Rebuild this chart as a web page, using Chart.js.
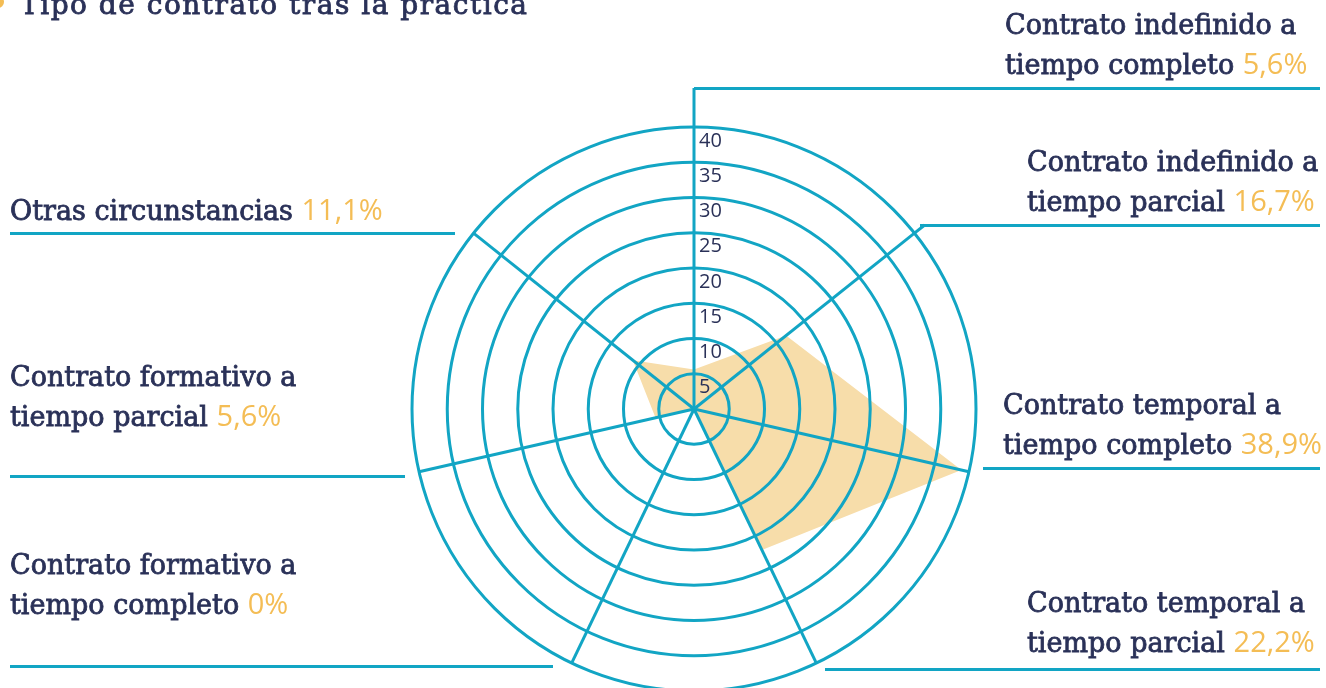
<!DOCTYPE html>
<html>
<head>
<meta charset="utf-8">
<script src="https://cdn.jsdelivr.net/npm/chart.js@4"></script>
<style>
  html, body { margin: 0; padding: 0; background: #ffffff; overflow: hidden; width: 1326px; height: 688px; }
  #wrap { position: relative; width: 1326px; height: 688px; overflow: hidden; }
  canvas#c { position: absolute; left: 0; top: 0; }
  .lbl { position: absolute; font-family: "DejaVu Serif", serif; font-size: 27px; line-height: 38px; color: #2A3158; white-space: nowrap; letter-spacing: 0px; -webkit-text-stroke: 0.8px #2A3158; }
  .pct { font-family: "Open Sans", sans-serif; font-size: 29px; color: #F4BD55; letter-spacing: 0; -webkit-text-stroke: 0px transparent; }
  #title { position: absolute; left: 20px; top: -14px; font-family: "DejaVu Serif", serif; font-size: 28px; line-height: 38px; color: #2A3158; white-space: nowrap; letter-spacing: 1.5px; -webkit-text-stroke: 0.8px #2A3158; }
  #bullet { position: absolute; left: -8px; top: -4px; width: 12px; height: 12px; border-radius: 50%; background: #F4BD55; }
  .hline { position: absolute; height: 3px; background: #12A5C4; }
</style>
</head>
<body>
<div id="wrap">
  <canvas id="c" width="1326" height="760"></canvas>
  <div id="bullet"></div>
  <div id="title"></div>
</div>
<script>
// ---- data ----
const categories = [
  'Contrato indefinido a tiempo completo',
  'Contrato indefinido a tiempo parcial',
  'Contrato temporal a tiempo completo',
  'Contrato temporal a tiempo parcial',
  'Contrato formativo a tiempo completo',
  'Contrato formativo a tiempo parcial',
  'Otras circunstancias'
];
const labelLine1 = ['Contrato indefinido a', 'Contrato indefinido a', 'Contrato temporal a', 'Contrato temporal a', 'Contrato formativo a', 'Contrato formativo a', 'Otras circunstancias'];
const labelLine2 = ['tiempo completo', 'tiempo parcial', 'tiempo completo', 'tiempo parcial', 'tiempo completo', 'tiempo parcial', ''];
const values = [5.6, 16.7, 38.9, 22.2, 0, 5.6, 11.1];
const valueLabels = ['5,6%', '16,7%', '38,9%', '22,2%', '0%', '5,6%', '11,1%'];
const tickValues = [5, 10, 15, 20, 25, 30, 35, 40];
const titleText = 'Tipo de contrato tras la práctica';

// ---- layout (positions only) ----
const TEAL = '#12A5C4';
const NAVY = '#2A3158';
const blockPos = [
  { left: 1005, top: 6 },
  { left: 1027, top: 143 },
  { left: 1003, top: 386 },
  { left: 1027, top: 584 },
  { left: 10, top: 546 },
  { left: 10, top: 358 },
  { left: 10, top: 190 }
];
const hlines = [
  { x1: 694, x2: 1320, y: 88 },
  { x1: 920, x2: 1320, y: 225 },
  { x1: 983, x2: 1320, y: 468 },
  { x1: 825, x2: 1320, y: 669 },
  { x1: 10, x2: 553, y: 666 },
  { x1: 10, x2: 405, y: 476 },
  { x1: 10, x2: 455, y: 233 }
];

const wrap = document.getElementById('wrap');
document.getElementById('title').textContent = titleText;
categories.forEach((c, i) => {
  const d = document.createElement('div');
  d.className = 'lbl';
  d.style.left = blockPos[i].left + 'px';
  d.style.top = blockPos[i].top + 'px';
  const pct = '<span class="pct">' + valueLabels[i] + '</span>';
  if (labelLine2[i]) {
    d.innerHTML = labelLine1[i] + '<br>' + labelLine2[i] + ' ' + pct;
  } else {
    d.innerHTML = labelLine1[i] + ' ' + pct;
  }
  wrap.appendChild(d);
});
hlines.forEach(h => {
  const l = document.createElement('div');
  l.className = 'hline';
  l.style.left = h.x1 + 'px';
  l.style.width = (h.x2 - h.x1) + 'px';
  l.style.top = (h.y - 1.5) + 'px';
  wrap.appendChild(l);
});

const decoPlugin = {
  id: 'deco',
  afterDraw(chart) {
    const s = chart.scales.r;
    const ctx = chart.ctx;
    ctx.save();
    ctx.strokeStyle = TEAL;
    ctx.lineWidth = 3;
    const outer = s.getDistanceFromCenterForValue(40);
    // top spoke up to its label line
    const p0 = s.getPointPosition(0, outer);
    ctx.beginPath();
    ctx.moveTo(p0.x, p0.y);
    ctx.lineTo(p0.x, hlines[0].y);
    ctx.stroke();
    // upper-right spoke extended to its label line
    const a1 = s.getPointPosition(1, outer);
    const ratio = (s.yCenter - hlines[1].y) / (s.yCenter - a1.y);
    const p1 = s.getPointPosition(1, outer * ratio);
    ctx.beginPath();
    ctx.moveTo(a1.x, a1.y);
    ctx.lineTo(p1.x, p1.y);
    ctx.stroke();
    // tick labels
    ctx.fillStyle = NAVY;
    ctx.font = '20px "Open Sans", sans-serif';
    ctx.textAlign = 'left';
    ctx.textBaseline = 'middle';
    tickValues.forEach(v => {
      const r = s.getDistanceFromCenterForValue(v);
      ctx.fillText(String(v), s.xCenter + 5, s.yCenter - r + 14);
    });
    ctx.restore();
  }
};

function build() {
  new Chart(document.getElementById('c'), {
    type: 'radar',
    data: {
      labels: categories,
      datasets: [{
        data: values,
        backgroundColor: '#F7DDAA',
        borderColor: 'rgba(0,0,0,0)',
        borderWidth: 0,
        pointRadius: 0,
        fill: true,
        tension: 0
      }]
    },
    options: {
      responsive: false,
      animation: false,
      devicePixelRatio: 1,
      layout: { padding: { left: 412, right: 350, top: 127, bottom: 69 } },
      plugins: { legend: { display: false }, tooltip: { enabled: false } },
      scales: {
        r: {
          min: 0,
          max: 40,
          ticks: { display: false, stepSize: 5 },
          pointLabels: { display: false },
          grid: { circular: true, color: TEAL, lineWidth: 3, z: 1 },
          angleLines: { color: TEAL, lineWidth: 3 }
        }
      }
    },
    plugins: [decoPlugin]
  });
}
if (document.fonts && document.fonts.load) {
  document.fonts.load('20px "Open Sans"').then(build, build);
} else {
  build();
}
</script>
</body>
</html>
